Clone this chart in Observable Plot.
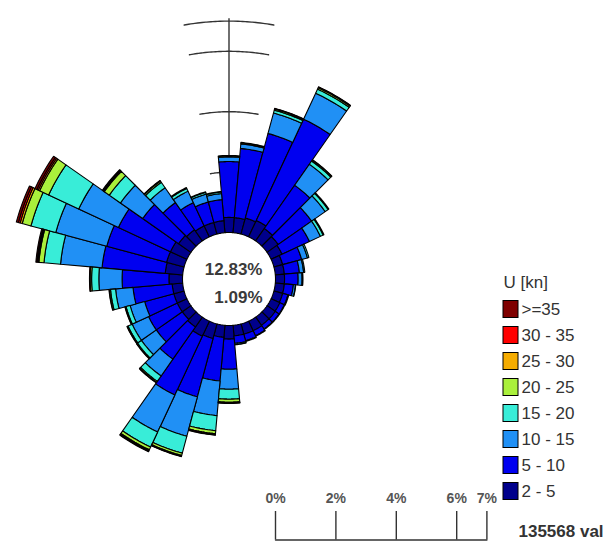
<!DOCTYPE html>
<html>
<head>
<meta charset="utf-8">
<script src="https://cdn.jsdelivr.net/npm/d3@7"></script>
<script src="https://cdn.jsdelivr.net/npm/@observablehq/plot@0.6"></script>
<style>
  html, body { margin: 0; padding: 0; background: #fff; }
  svg { display: block; }
</style>
</head>
<body>
<div id="chart"></div>
<script>
// ---------- DATA ----------
const directions = [0,10,20,30,40,50,60,70,80,90,100,110,120,130,140,150,160,170,
                    180,190,200,210,220,230,240,250,260,270,280,290,300,310,320,330,340,350];
// frequency (%) per direction and speed class
const spd2_5   = [0.50,0.50,0.55,0.60,0.50,0.45,0.40,0.30,0.30,0.30,0.30,0.30,0.32,0.33,0.33,0.35,0.35,0.35,
                  0.45,0.40,0.50,0.55,0.40,0.35,0.35,0.35,0.35,0.45,0.58,0.60,0.60,0.50,0.45,0.40,0.40,0.40];
const spd5_10  = [1.85,2.30,2.90,3.70,1.75,1.35,1.00,0.65,0.50,0.45,0.30,0.18,0.16,0.15,0.15,0.18,0.22,0.25,
                  1.00,1.45,2.00,2.15,1.30,1.05,1.05,1.00,1.30,1.55,2.10,2.05,1.90,1.45,1.10,0.85,0.70,0.70];
const spd10_15 = [0.15,0.15,0.70,0.95,0.85,0.55,0.40,0.20,0.14,0.13,0.07,0.03,0.02,0.02,0.02,0.02,0.03,0.04,
                  0.66,1.15,1.35,1.35,0.68,0.60,0.60,0.50,0.58,0.77,1.38,1.75,1.45,0.90,0.60,0.42,0.27,0.20];
const spd15_20 = [0.03,0.03,0.10,0.15,0.13,0.12,0.10,0.05,0.04,0.03,0.01,0,0,0,0,0,0,0.01,
                  0.33,0.50,0.58,0.55,0.22,0.16,0.15,0.14,0.17,0.24,0.55,0.85,1.10,0.45,0.22,0.10,0.06,0.05];
const spd20_25 = [0.02,0.02,0.04,0.05,0.04,0.03,0.03,0,0,0,0,0,0,0,0,0,0,0,
                  0.10,0.10,0.08,0.10,0.04,0.03,0.03,0.03,0.04,0.05,0.17,0.30,0.33,0.20,0.05,0.03,0.02,0.02];
const spd25_30 = [0,0,0.01,0.02,0.01,0,0,0,0,0,0,0,0,0,0,0,0,0,
                  0.02,0.02,0.02,0.03,0.01,0.01,0.01,0.01,0.01,0.01,0.03,0.07,0.05,0.03,0.01,0,0,0];
const spd30_35 = [0,0,0.01,0.01,0,0,0,0,0,0,0,0,0,0,0,0,0,0,
                  0.01,0.02,0.01,0.02,0.01,0,0,0,0,0.01,0.03,0.06,0.05,0.03,0.01,0,0,0];
const spd35up  = [0,0,0,0,0,0,0,0,0,0,0,0,0,0,0,0,0,0,
                  0.01,0.01,0.01,0.02,0,0,0,0,0,0,0.04,0.07,0.07,0.02,0,0,0,0];

const classLabels = ["2 - 5","5 - 10","10 - 15","15 - 20","20 - 25","25 - 30","30 - 35",">=35"];
const classColors = ["#00008c","#0000f0","#2090f5","#38edd8","#aaf03c","#f5ac00","#ff0000","#7f0000"];
const ringTicks  = [2, 4, 6, 7];
const scaleTicks = [0, 2, 4, 6, 7];
const centerTop = "12.83%";
const centerBottom = "1.09%";
const countText = "135568 val";
const legendTitle = "U [kn]";

// ---------- LAYOUT ----------
const W = 613, H = 541;
const CX = 228.5, CY = 278.5;   // rose centre (px)
const K = 30.2;                 // px per 1 %
const HOLE = 46.5 / K;          // inner hole radius in % units
const HALF = 5;                 // half sector width (deg)
const FONT = "'Liberation Sans', Arial, sans-serif";
const px = p => (p - CX) / K;   // pixel -> data helpers for annotations
const py = p => (CY - p) / K;
const rad = a => a * Math.PI / 180;
const polar = (r, a) => ({x: r * Math.sin(rad(a)), y: r * Math.cos(rad(a))});

const series = [spd2_5, spd5_10, spd10_15, spd15_20, spd20_25, spd25_30, spd30_35, spd35up];

// stacked sector polygons
const segsByClass = series.map(() => []);
directions.forEach((dir, i) => {
  let cum = 0;
  series.forEach((vals, c) => {
    const v = vals[i];
    if (!(v > 0)) return;
    const r0 = HOLE + cum, r1 = HOLE + cum + v;
    cum += v;
    const id = dir + "-" + c;
    const pts = [];
    for (let a = dir - HALF; a <= dir + HALF + 1e-9; a += 1) pts.push(polar(r1, a));
    for (let a = dir + HALF; a >= dir - HALF - 1e-9; a -= 1) pts.push(polar(r0, a));
    pts.push(pts[0]);
    pts.forEach(p => segsByClass[c].push({id, x: p.x, y: p.y}));
  });
});

// ring arcs along the north axis
const arcs = [];
ringTicks.forEach(t => {
  for (let a = -10; a <= 10; a += 1) arcs.push({t, ...polar(HOLE + t, a)});
});

// legend rows
const legendRows = classLabels.map((label, c) => {
  const row = classLabels.length - 1 - c;
  const yc = 309 + 26 * row;
  return {label, color: classColors[c], y1: py(yc - 8.5), y2: py(yc + 8.5), yc: py(yc)};
});

const marks = [
  // axis
  Plot.ruleX([0], {x: d => d, y1: HOLE, y2: HOLE + 7.08, stroke: "#333", strokeWidth: 1.4}),
  Plot.line(arcs, {x: "x", y: "y", z: "t", stroke: "#333", strokeWidth: 1.4, curve: "natural"}),
  // sectors
  ...segsByClass.map((segs, c) =>
    Plot.line(segs, {x: "x", y: "y", z: "id", fill: classColors[c], stroke: "#000",
                     strokeWidth: 1.1, strokeLinejoin: "miter", curve: "linear"})),
  // centre texts
  Plot.text([centerTop], {x: px(262), y: py(269), text: d => d, textAnchor: "end",
    fontSize: 17, fontWeight: "bold", fill: "#3a3a3a", fontFamily: FONT}),
  Plot.text([centerBottom], {x: px(262), y: py(297), text: d => d, textAnchor: "end",
    fontSize: 17, fontWeight: "bold", fill: "#3a3a3a", fontFamily: FONT}),
  // scale bar
  Plot.line(scaleTicks.filter((t, i, a) => i === 0 || i === a.length - 1),
    {x: t => HOLE + t, y: py(539.5), stroke: "#333", strokeWidth: 1.4}),
  Plot.ruleX(scaleTicks, {x: t => HOLE + t, y1: py(511), y2: py(539.5), stroke: "#333", strokeWidth: 1.4}),
  Plot.text(scaleTicks, {x: t => HOLE + t, y: py(498), text: t => t + "%", fontSize: 14,
    fontWeight: "bold", fill: "#555", fontFamily: FONT}),
  Plot.text([countText], {x: px(518), y: py(531), text: d => d, textAnchor: "start",
    fontSize: 17, fontWeight: "bold", fill: "#333", fontFamily: FONT}),
  // legend
  Plot.text([legendTitle], {x: px(503), y: py(282), text: d => d, textAnchor: "start",
    fontSize: 17, fill: "#333", fontFamily: FONT}),
  Plot.rect(legendRows, {x1: px(503), x2: px(518), y1: "y1", y2: "y2", fill: d => d.color,
    stroke: "#000", strokeWidth: 1}),
  Plot.text(legendRows, {x: px(521), y: "yc", text: "label", textAnchor: "start",
    fontSize: 17, fill: "#333", fontFamily: FONT})
];

const chart = Plot.plot({
  width: W, height: H, margin: 0,
  x: {domain: [px(0), px(W)], axis: null},
  y: {domain: [py(H), py(0)], axis: null},
  style: {background: "#fff", fontFamily: FONT, overflow: "visible"},
  marks
});
document.getElementById("chart").append(chart);
</script>
</body>
</html>
